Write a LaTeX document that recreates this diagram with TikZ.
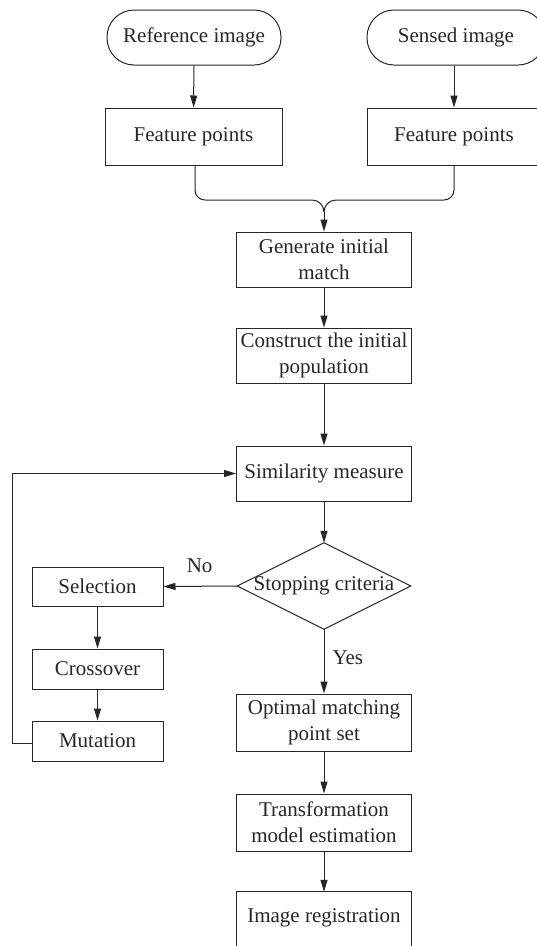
\documentclass[tikz,border=0pt]{standalone}
\usepackage{fontspec}
\setmainfont{Liberation Serif}
\usetikzlibrary{arrows.meta}
\begin{document}
\begin{tikzpicture}[x=1pt,y=-1pt,
  every node/.style={font=\fontsize{21}{26}\selectfont, text=black!85},
  line/.style={draw=black!85, line width=1pt},
  arr/.style={line, -{Triangle[length=12pt,width=7pt]}},
  box/.style={line, rectangle, align=center, inner sep=0pt, minimum width=175pt, minimum height=55pt},
  term/.style={box, rounded corners=27pt},
  sbox/.style={box, minimum width=131pt, minimum height=40pt},
  lbl/.style={inner sep=0pt}
]
\useasboundingbox (0,0) rectangle (537,946);
\clip (0,0) rectangle (537,946);
\node[term, minimum width=174pt] (ref) at (194,37.5) {Reference image};
\node[term, minimum width=178pt] (sen) at (456,37.5) {Sensed image};
\node[box, minimum width=177pt, minimum height=57pt] (fp1) at (193.5,136.5) {Feature points};
\node[box, minimum width=174pt, minimum height=57pt] (fp2) at (454,136.5) {Feature points};
\node[box] (gim) at (324,259.5) {Generate initial\\match};
\node[box] (cip) at (324,355.5) {Construct the initial\\population};
\node[box] (sim) at (324,473.5) {Similarity measure};
\node[inner sep=0pt, minimum width=173pt, minimum height=86pt] (dia) at (324,586) {Stopping criteria};
\draw[line] (dia.north) -- (dia.east) -- (dia.south) -- (dia.west) -- cycle;
\node[sbox, minimum height=39pt] (sel) at (97.5,586.5) {Selection};
\node[sbox] (cro) at (97.5,669) {Crossover};
\node[sbox] (mut) at (97.5,741) {Mutation};
\node[box, minimum height=57pt] (opt) at (324,722.5) {Optimal matching\\point set};
\node[box, minimum height=57pt] (tra) at (324,822.5) {Transformation\\model estimation};
\node[inner sep=0pt, minimum width=175pt, minimum height=52pt] (ireg) at (324,918) {Image registration};
\draw[line] (ireg.south west) ++(0,10) -- (ireg.north west) -- (ireg.north east) -- ++(0,62);
% connectors
\draw[arr] (ref) -- (fp1);
\draw[arr] (sen.south -| fp2.north) -- (fp2);
\coordinate (m) at (324,212);
\draw[line] (fp1.south -| 195,0) -- (195,190) to[out=-90,in=180] (205,200) -- (312,200) to[out=0,in=90] (m);
\draw[line] (fp2.south) -- (454,190) to[out=-90,in=0] (444,200) -- (336,200) to[out=180,in=90] (m);
\draw[arr] (m) -- (gim.north);
\draw[arr] (gim) -- (cip);
\draw[arr] (cip) -- (sim);
\draw[arr] (sim) -- (dia.north);
\draw[arr] (dia.west) -- node[lbl, above=13pt, pos=0.51] (no) {No} (sel.east);
\draw[arr] (dia.south) -- node[lbl, right=8pt, pos=0.45] (yes) {Yes} (opt.north);
\draw[arr] (sel) -- (cro);
\draw[arr] (cro) -- (mut);
\coordinate (lp) at (12,743);
\draw[arr] (mut.west |- lp) -- (lp) |- (sim.west);
\draw[arr] (opt) -- (tra);
\draw[arr] (tra) -- (ireg.north);
\end{tikzpicture}
\end{document}
